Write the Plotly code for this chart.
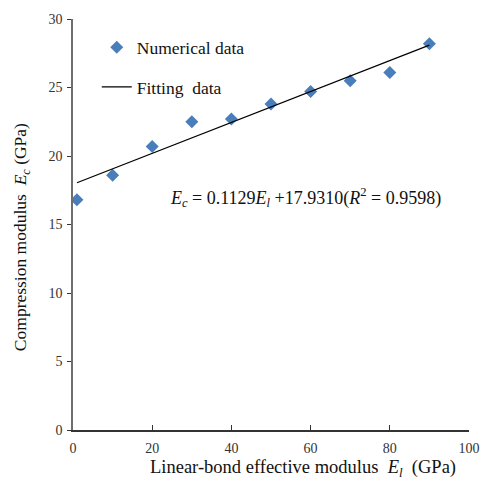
import plotly.graph_objects as go

x_num = [1, 10, 20, 30, 40, 50, 60, 70, 80, 90]
y_num = [16.8, 18.6, 20.7, 22.5, 22.7, 23.8, 24.7, 25.5, 26.1, 28.2]
slope = 0.1129
intercept = 17.9310
x_fit = [1, 90]
y_fit = [slope * v + intercept for v in x_fit]

FONT = "Liberation Serif"

fig = go.Figure()
fig.add_trace(go.Scatter(x=x_num, y=y_num, mode="markers", name="Numerical data",
                         legendgroup="a",
                         marker=dict(symbol="diamond", size=10, color="#4a7ebb")))
fig.add_trace(go.Scatter(x=x_fit, y=y_fit, mode="lines", name="Fitting  data",
                         legendgroup="b",
                         line=dict(color="black", width=1.2)))

fig.update_layout(
    width=481, height=485,
    margin=dict(l=73, r=12, t=19, b=55, autoexpand=False),
    paper_bgcolor="white", plot_bgcolor="white",
    font=dict(family=FONT, size=15, color="#222"),
    showlegend=True,
    legend=dict(x=0.06, y=0.975, xanchor="left", yanchor="top",
                bgcolor="rgba(0,0,0,0)", font=dict(size=17.5, family=FONT, color="#111"),
                itemwidth=30, traceorder="grouped", tracegroupgap=14),
    xaxis=dict(range=[0, 100], tickvals=[0, 20, 40, 60, 80, 100],
               showgrid=False, zeroline=False, showline=True, linecolor="#333", linewidth=1.5,
               ticks="inside", ticklen=5, tickcolor="#333", ticklabelstandoff=4,
               tickfont=dict(size=14, family=FONT, color="#333")),
    yaxis=dict(range=[0, 30], tickvals=[0, 5, 10, 15, 20, 25, 30],
               showgrid=False, zeroline=False, showline=True, linecolor="#6e6e6e", linewidth=1.5,
               ticks="outside", ticklen=4, tickcolor="#333", ticklabelstandoff=2,
               tickfont=dict(size=14, family=FONT, color="#333")),
)

fig.add_annotation(x=58.8, y=17.0, xref="x", yref="y", showarrow=False,
                   text="<i>E</i><sub><i>c</i></sub> = 0.1129<i>E</i><sub><i>l</i></sub> +17.9310(<i>R</i><sup>2</sup> = 0.9598)",
                   font=dict(size=18, family=FONT, color="#111"))
fig.add_annotation(x=0.58, y=-0.06, xref="paper", yref="paper", showarrow=False,
                   xanchor="center", yanchor="top",
                   text="Linear-bond effective modulus  <i>E</i><sub><i>l</i></sub>  (GPa)",
                   font=dict(size=18.5, family=FONT, color="#111"))
fig.add_annotation(x=-0.128, y=0.47, xref="paper", yref="paper", showarrow=False,
                   textangle=-90, xanchor="center", yanchor="middle",
                   text="Compression modulus  <i>E</i><sub><i>c</i></sub> (GPa)",
                   font=dict(size=17.5, family=FONT, color="#111"))

fig.write_html("out.html", config={"displayModeBar": False},
               post_script="document.body.style.margin='0';document.body.style.overflow='hidden';")
